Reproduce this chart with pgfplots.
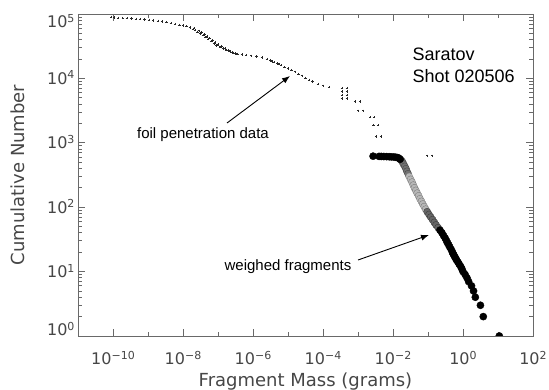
\documentclass[border=0pt]{standalone}
\usepackage{fontspec}
\setmainfont{DejaVu Sans}
\newfontfamily\arial{Liberation Sans}
\usepackage{pgfplots}
\pgfplotsset{compat=1.18}
\usetikzlibrary{arrows.meta}
\definecolor{axgray}{RGB}{105,105,105}
\definecolor{txtgray}{RGB}{70,70,70}
\newcommand{\tp}[1]{10\raisebox{5.5pt}{\fontsize{11}{11}\selectfont #1}}

\pgfplotstableread{
m N
8.9e-11 90000
1.07e-10 88000
1.41e-10 87000
1.9e-10 86500
2.5e-10 86000
3.4e-10 85000
4.5e-10 84000
6.0e-10 83000
7.9e-10 82000
1.07e-9 81000
1.41e-9 79500
1.9e-9 78000
2.5e-9 76500
3.4e-9 74500
4.5e-9 72500
6.0e-9 70000
7.9e-9 68000
1.0e-8 66500
1.26e-8 64500
1.58e-8 62000
1.9e-8 59000
2.24e-8 56000
2.63e-8 53000
3.16e-8 50000
3.7e-8 47000
4.37e-8 44000
5.25e-8 41000
6.3e-8 38000
7.6e-8 35000
9.1e-8 32500
1.12e-7 30500
1.38e-7 29000
1.74e-7 27500
2.19e-7 26000
2.8e-7 25000
3.6e-7 24000
4.8e-7 23500
6.3e-7 23000
8.9e-7 22500
1.26e-6 22000
1.78e-6 21000
2.5e-6 20000
3.16e-6 19000
4.0e-6 18000
5.0e-6 17000
6.3e-6 16000
7.9e-6 15000
1.0e-5 14300
1.26e-5 13500
1.58e-5 12700
2.0e-5 11800
2.5e-5 11000
3.16e-5 10200
4.0e-5 9500
5.0e-5 8900
7.1e-5 8200
1.0e-4 7700
1.48e-4 7300
2.09e-8 60000
2.82e-8 55000
3.4e-8 52000
4.07e-8 48000
4.8e-8 45000
5.75e-8 42000
6.9e-8 39000
8.3e-8 36000
1.0e-7 33500
1.26e-7 31500
1.58e-7 29000
2.0e-7 27000
2.5e-7 25500
3.16e-7 24500
3.55e-6 18200
5.6e-6 16800
3.47e-4 7050
4.83e-4 7050
3.47e-4 6220
4.83e-4 6220
3.47e-4 5520
4.83e-4 5520
3.47e-4 4870
4.83e-4 4870
8.3e-4 4350
1.15e-3 4350
1.02e-3 3150
1.41e-3 3150
2.24e-3 2490
2.88e-3 2490
2.75e-3 1890
3.8e-3 1890
3.3e-3 1245
4.6e-3 1245
0.095 630
0.132 630
}\foil

\pgfplotstableread{
m N
0.0027 620
0.004 615
0.0046 614
0.0055 612
0.0066 610
0.0078 608
0.009 605
0.0105 602
0.012 597
0.0135 590
0.0148 575
0.016 555
}\wA

\pgfplotstableread{
m N
0.0175 530
0.0188 500
0.020 465
0.0218 430
0.0235 395
0.025 360
0.027 330
}\wB

\pgfplotstableread{
m N
0.029 300
0.032 270
0.035 245
0.038 220
0.041 200
0.045 182
0.049 165
0.054 150
0.059 135
0.065 123
0.071 112
0.078 102
0.086 93
}\wC

\pgfplotstableread{
m N
0.095 85
0.107 77
0.12 70
0.135 64
0.152 58
0.17 53
0.195 48
}\wD

\pgfplotstableread{
m N
0.22 44
0.25 40
0.28 36
0.31 33
0.34 30
0.36 28
0.39 26
0.42 24
0.46 22
0.50 20
0.52 19
0.55 18
0.58 17
0.62 16
0.66 15
0.72 14
0.78 13
0.86 12
0.93 11
1.0 10
1.15 9
1.3 8
1.45 7
1.75 6
2.0 5
2.25 4
3.15 3
3.8 2
10.9 1
}\wE

\begin{document}
\begin{tikzpicture}
\begin{axis}[
  scale only axis, width=455pt, height=322pt,
  xmode=log, ymode=log,
  xmin=1e-11, xmax=1e2, ymin=1, ymax=1e5,
  axis line style={axgray, line width=0.9pt},
  every tick/.style={axgray, line width=0.8pt},
  major tick length=7pt, minor tick length=4pt,
  xtick={1e-10,1e-8,1e-6,1e-4,1e-2,1,1e2},
  xticklabels={\tp{−10},\tp{−8},\tp{−6},\tp{−4},\tp{−2},\tp{0},\tp{2}},
  minor xtick={1e-11,1e-9,1e-7,1e-5,1e-3,1e-1,1e1},
  ytick={1,10,100,1000,10000,100000},
  yticklabels={\raisebox{6pt}{\tp{0}},\tp{1},\tp{2},\tp{3},\tp{4},\raisebox{-8pt}{\tp{5}}},
  minor ytick={2,3,4,5,6,7,8,9,20,30,40,50,60,70,80,90,200,300,400,500,600,700,800,900,2000,3000,4000,5000,6000,7000,8000,9000,20000,30000,40000,50000,60000,70000,80000,90000},
  xticklabel style={font=\fontsize{16}{16}\selectfont, text=txtgray, anchor=base, yshift=-29pt},
  yticklabel style={font=\fontsize{16}{16}\selectfont, text=txtgray, anchor=base east, yshift=-6pt},
  xlabel={Fragment Mass (grams)},
  ylabel={Cumulative Number},
  xlabel style={font=\fontsize{18}{18}\selectfont, text=txtgray, at={(axis description cs:0.5,-0.1553)}, anchor=base},
  ylabel style={font=\fontsize{18}{18}\selectfont, text=txtgray, at={(axis description cs:-0.1165,0.5)}, anchor=base, rotate=0},
  clip marker paths=true,
]
\coordinate (bl) at (rel axis cs:0,0);
\coordinate (tr) at (rel axis cs:1,1);
\addplot[only marks, mark=+, mark size=1.2pt, black!85, mark options={line width=0.5pt}] table[x=m, y=N] {\foil};
\addplot[only marks, mark=*, mark size=3.6pt, mark options={fill=black!55, draw=black!75, line width=0.3pt}] table[x=m, y=N] {\wB};
\addplot[only marks, mark=*, mark size=3.6pt, mark options={fill=black!28, draw=black!55, line width=0.3pt}] table[x=m, y=N] {\wC};
\addplot[only marks, mark=*, mark size=3.6pt, mark options={fill=black!60, draw=black!80, line width=0.3pt}] table[x=m, y=N] {\wD};
\addplot[only marks, mark=*, mark size=3.6pt, mark options={fill=black, draw=black}] table[x=m, y=N] {\wA};
\addplot[only marks, mark=*, mark size=3.6pt, mark options={fill=black, draw=black}] table[x=m, y=N] {\wE};

\node[font=\arial\fontsize{18}{18}\selectfont, anchor=base west] at (rel axis cs:0.7275,0.857) {Saratov};
\node[font=\arial\fontsize{18}{18}\selectfont, anchor=base west] at (rel axis cs:0.7275,0.786) {Shot 020506};
\node[font=\arial\fontsize{15}{15}\selectfont] at (rel axis cs:0.2747,0.624) {foil penetration data};
\node[font=\arial\fontsize{15}{15}\selectfont] at (rel axis cs:0.4615,0.2143) {weighed fragments};
\draw[black, line width=0.9pt, -{Latex[length=8pt,width=6pt]}] (rel axis cs:0.3275,0.6615) -- (rel axis cs:0.466,0.8075);
\draw[black, line width=0.9pt, -{Latex[length=8pt,width=6pt]}] (rel axis cs:0.6154,0.236) -- (rel axis cs:0.7714,0.3137);
\end{axis}
\pgfresetboundingbox
\path ([shift={(-78pt,-54pt)}]bl) rectangle ([shift={(16pt,14pt)}]tr);
\end{tikzpicture}
\end{document}
